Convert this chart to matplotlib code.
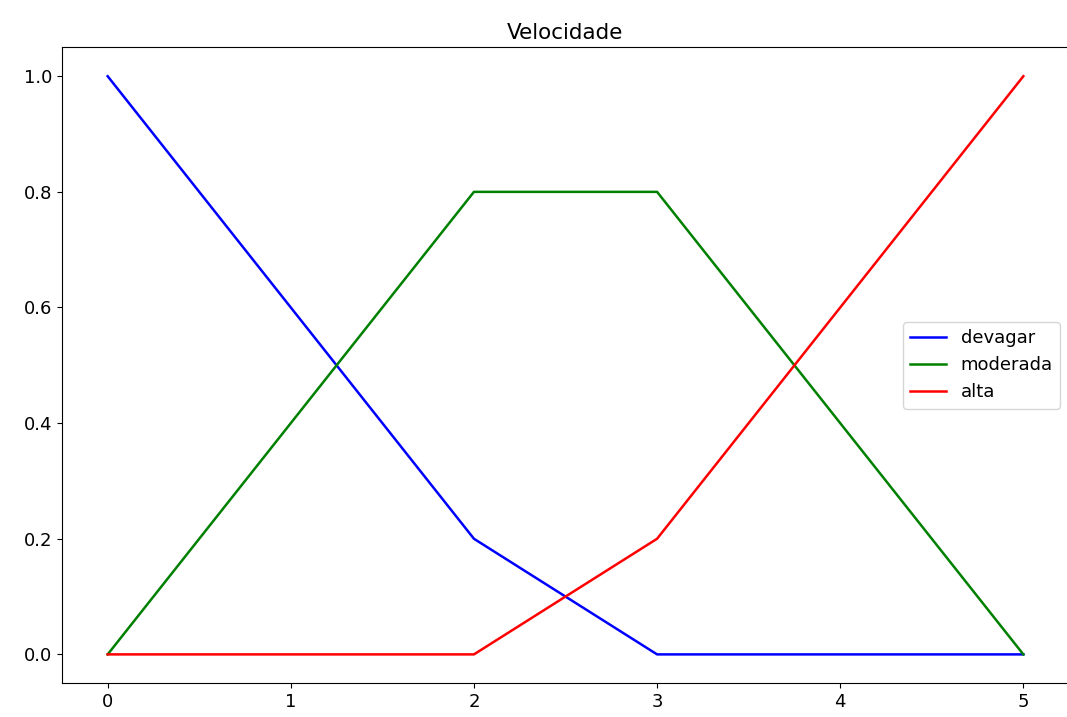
import numpy as np
import matplotlib
matplotlib.use("Agg")
import matplotlib.pyplot as plt

x = [0, 1, 2, 3, 4, 5]
devagar = [1.0, 0.6, 0.2, 0.0, 0.0, 0.0]
moderada = [0.0, 0.4, 0.8, 0.8, 0.4, 0.0]
alta = [0.0, 0.0, 0.0, 0.2, 0.6, 1.0]

plt.rcParams['font.size'] = 13

fig = plt.figure(figsize=(10.67, 7.17), dpi=100)
ax = fig.add_axes([0.058, 0.047, 0.944, 0.887])

ax.plot(x, devagar, color="blue", label="devagar", linewidth=1.8)
ax.plot(x, moderada, color="green", label="moderada", linewidth=1.8)
ax.plot(x, alta, color="red", label="alta", linewidth=1.8)

ax.set_title("Velocidade", fontsize=15.5)
ax.legend(loc="center right")

fig.savefig("out.png")
